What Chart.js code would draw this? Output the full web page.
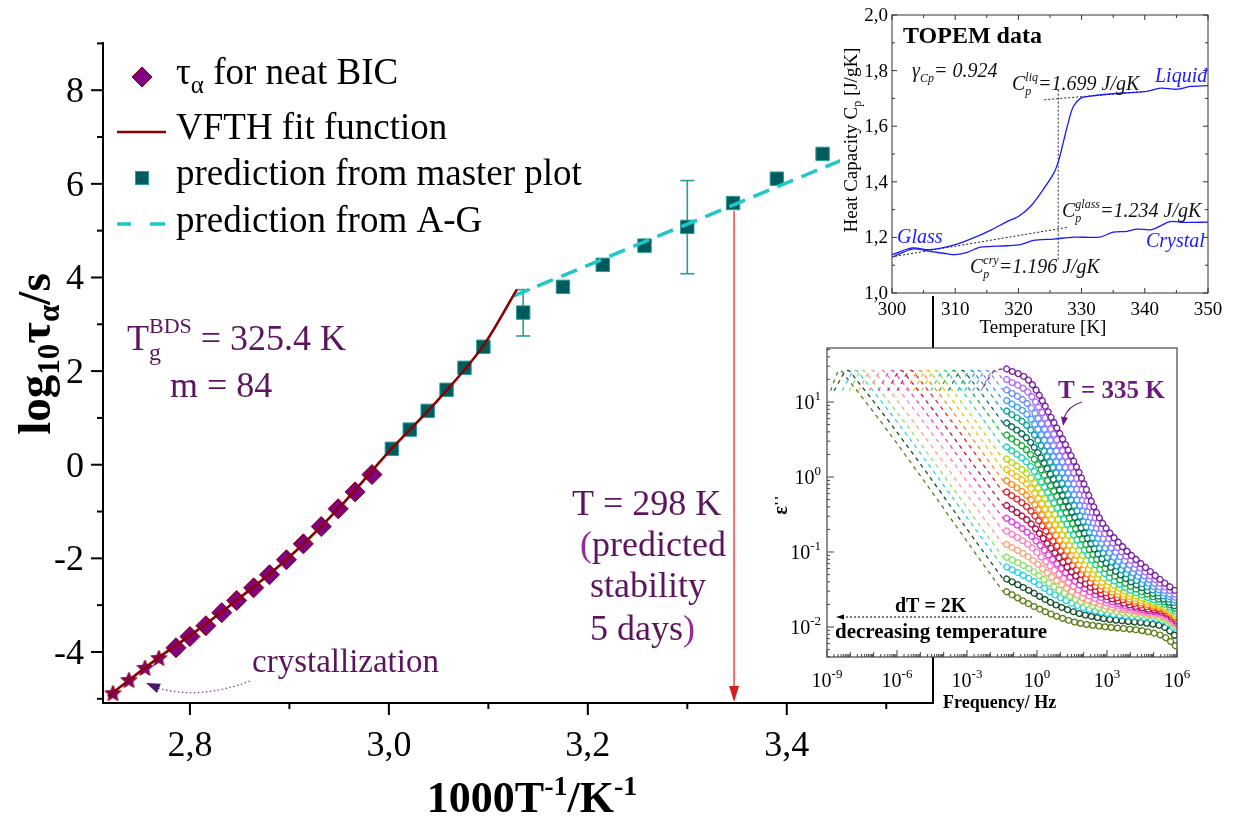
<!DOCTYPE html>
<html lang="en">
<head>
<meta charset="UTF-8">
<title>BIC relaxation map</title>
<script src="https://cdn.jsdelivr.net/npm/chart.js"></script>
<style>
  html, body { margin: 0; padding: 0; background: #fff; }
  #wrap { position: relative; width: 1236px; height: 816px; overflow: hidden; }
  #wrap canvas { position: absolute; }
</style>
</head>
<body>
<div id="wrap">
  <canvas id="mainChart" width="1236" height="816" style="left:0;top:0"></canvas>
  <canvas id="topemChart" width="396" height="340" style="left:840px;top:0"></canvas>
  <canvas id="dielChart" width="461" height="380" style="left:775px;top:340px"></canvas>
</div>

<script>
// ---- main plot: log10(tau) vs 1000/T ----
const crystX = [2.7226, 2.7387, 2.7548, 2.7688];
const crystY = [-4.87, -4.59, -4.33, -4.12];
const bicX = [2.786, 2.800, 2.816, 2.832, 2.847, 2.864, 2.880, 2.897, 2.914, 2.932, 2.949, 2.966, 2.983];
const bicY = [-3.91, -3.67, -3.44, -3.16, -2.90, -2.63, -2.35, -2.03, -1.69, -1.32, -0.94, -0.58, -0.21];
const masterX = [3.003, 3.021, 3.039, 3.058, 3.076, 3.095, 3.135, 3.175, 3.215, 3.257, 3.300, 3.346, 3.390, 3.436];
const masterY = [0.34, 0.75, 1.15, 1.60, 2.07, 2.52, 3.25, 3.80, 4.27, 4.68, 5.08, 5.59, 6.11, 6.64];
const errIndex = [6, 10];
const errLow = [2.75, 4.08];
const errHigh = [3.74, 6.07];
const vfthX = [2.7176, 2.7698, 2.800, 2.8503, 2.9005, 2.9508, 3.0010, 3.0513, 3.0955, 3.1286];
const vfthY = [-4.95, -4.10, -3.65, -2.84, -1.96, -0.90, 0.30, 1.43, 2.56, 3.74];
const agX = [3.125, 3.46];
const agY = [3.60, 6.55];
const arrowX = 3.347;
const arrowTop = 5.42;

// ---- TOPEM inset ----
const heatT = [300, 303.2, 306, 310, 312.9, 315.8, 318.2, 320, 321.9, 323.7, 325.6, 326.4, 327.2, 328, 328.7, 329.8, 331.1, 334, 337.7, 340.3, 342.5, 345.1, 347.2, 350];
const heatCp = [1.138, 1.162, 1.156, 1.174, 1.198, 1.228, 1.257, 1.275, 1.311, 1.365, 1.431, 1.479, 1.551, 1.623, 1.671, 1.700, 1.707, 1.715, 1.721, 1.725, 1.737, 1.733, 1.743, 1.746];
const cryT = [300, 303.2, 306, 308.7, 310, 311.9, 314, 318.2, 320.3, 322.4, 325.6, 328.7, 332.9, 335, 337.2, 338.8, 341.1, 344, 346.1, 350];
const cryCp = [1.129, 1.158, 1.150, 1.141, 1.138, 1.146, 1.165, 1.170, 1.174, 1.189, 1.194, 1.201, 1.201, 1.219, 1.222, 1.230, 1.228, 1.257, 1.254, 1.255];
const guideTgT = [326.3, 326.3];
const guideTgCp = [1.12, 1.733];
const guideLiqT = [324.1, 339.8];
const guideLiqCp = [1.695, 1.725];
const guideGlassT = [300.5, 327.7];
const guideGlassCp = [1.132, 1.236];

// ---- dielectric inset (log10 values) ----
const freqLog = [-1.3, -0.3, 0.7, 1.7, 2.7, 3.7, 4.7, 5.5, 6.0];
const epsLog = [
  [1.44, 1.27, 0.74, 0.13, -0.56, -0.94, -1.22, -1.42, -1.53],
  [1.30, 1.10, 0.58, -0.02, -0.66, -1.02, -1.28, -1.47, -1.58],
  [1.16, 0.94, 0.42, -0.16, -0.76, -1.10, -1.34, -1.52, -1.62],
  [1.02, 0.79, 0.27, -0.30, -0.86, -1.18, -1.40, -1.56, -1.66],
  [0.88, 0.64, 0.12, -0.44, -0.96, -1.26, -1.46, -1.60, -1.70],
  [0.72, 0.47, -0.03, -0.58, -1.06, -1.33, -1.51, -1.64, -1.74],
  [0.56, 0.31, -0.18, -0.71, -1.15, -1.40, -1.56, -1.67, -1.77],
  [0.40, 0.15, -0.33, -0.83, -1.23, -1.46, -1.60, -1.70, -1.80],
  [0.24, 0.00, -0.47, -0.94, -1.31, -1.51, -1.64, -1.73, -1.83],
  [0.10, -0.14, -0.60, -1.04, -1.38, -1.56, -1.67, -1.75, -1.86],
  [-0.05, -0.29, -0.73, -1.14, -1.44, -1.60, -1.70, -1.77, -1.88],
  [-0.20, -0.44, -0.86, -1.24, -1.50, -1.64, -1.73, -1.79, -1.90],
  [-0.38, -0.61, -0.99, -1.33, -1.55, -1.68, -1.76, -1.81, -1.92],
  [-0.55, -0.77, -1.11, -1.41, -1.60, -1.71, -1.78, -1.83, -1.94],
  [-0.72, -0.92, -1.23, -1.49, -1.65, -1.74, -1.80, -1.85, -1.96],
  [-0.90, -1.08, -1.35, -1.57, -1.70, -1.77, -1.82, -1.87, -1.98],
  [-1.07, -1.23, -1.46, -1.64, -1.75, -1.81, -1.85, -1.90, -2.01],
  [-1.20, -1.36, -1.56, -1.71, -1.80, -1.85, -1.88, -1.93, -2.05],
  [-1.36, -1.52, -1.69, -1.81, -1.88, -1.92, -1.95, -2.01, -2.14],
  [-1.53, -1.70, -1.84, -1.94, -1.99, -2.02, -2.06, -2.14, -2.27]
];
const masterCurves = [
  [[-2.3, 1.20], [-1.8, 1.42], [-1.45, 1.44]],
  [[-2.4, 1.15], [-1.85, 1.42], [-1.45, 1.30]],
  [[-2.75, 1.15], [-2.15, 1.42], [-1.8, 1.30], [-1.45, 1.16]],
  [[-3.1, 1.15], [-2.5, 1.42], [-2.15, 1.30], [-1.45, 1.02]],
  [[-3.4, 1.15], [-2.82, 1.42], [-2.47, 1.30], [-1.45, 0.88]],
  [[-3.8, 1.15], [-3.2, 1.42], [-2.85, 1.30], [-1.45, 0.72]],
  [[-4.2, 1.15], [-3.58, 1.42], [-3.23, 1.30], [-1.45, 0.56]],
  [[-4.55, 1.15], [-3.96, 1.42], [-3.6, 1.30], [-1.45, 0.40]],
  [[-4.95, 1.15], [-4.34, 1.42], [-4.0, 1.30], [-1.45, 0.24]],
  [[-5.3, 1.15], [-4.68, 1.42], [-4.33, 1.30], [-1.45, 0.10]],
  [[-5.6, 1.15], [-5.03, 1.42], [-4.68, 1.30], [-1.45, -0.05]],
  [[-6.0, 1.15], [-5.39, 1.42], [-5.04, 1.30], [-1.45, -0.20]],
  [[-6.4, 1.15], [-5.82, 1.42], [-5.47, 1.30], [-1.45, -0.38]],
  [[-6.8, 1.15], [-6.22, 1.42], [-5.87, 1.30], [-1.45, -0.55]],
  [[-7.2, 1.15], [-6.63, 1.42], [-6.28, 1.30], [-1.45, -0.72]],
  [[-7.65, 1.15], [-7.06, 1.42], [-6.71, 1.30], [-1.45, -0.90]],
  [[-8.05, 1.15], [-7.46, 1.42], [-7.11, 1.30], [-1.45, -1.07]],
  [[-8.35, 1.15], [-7.77, 1.42], [-7.42, 1.30], [-1.45, -1.20]],
  [[-8.7, 1.15], [-8.1, 1.42], [-7.75, 1.30], [-1.45, -1.36]],
  [[-8.85, 1.15], [-8.45, 1.42], [-8.1, 1.30], [-1.45, -1.53]]
];
const curveColors = ['#7b1fa2', '#b36bff', '#6f8cff', '#3fa0ff', '#10a6a0', '#0b6e5a', '#1fae3c', '#1fd6b8', '#b8d81a', '#f3c012',
  '#ff8a1c', '#e3262e', '#b0124f', '#e23ee6', '#ff7fbf', '#ffa27d', '#8ee06a', '#2fd0e6', '#17502a', '#5f7f1a'];

const SERIF = "'Liberation Serif', 'Times New Roman', serif";
const PURPLE = '#5c145f';

function pts(xs, ys) { return xs.map((x, i) => ({ x: x, y: ys[i] })); }

function richText(ctx, x, y, parts, align) {
  const fnt = p => (p.i ? 'italic ' : '') + (p.b ? 'bold ' : '') + p.s + 'px ' + SERIF;
  const adv = [];
  let total = 0, held = 0;
  parts.forEach(p => {
    ctx.font = fnt(p);
    const w = ctx.measureText(p.t).width;
    if (p.hold) { held = Math.max(held, w); adv.push(0); }
    else { const a = Math.max(w, held); held = 0; adv.push(a); total += a; }
  });
  total += held;
  let cx = align === 'center' ? x - total / 2 : align === 'right' ? x - total : x;
  ctx.textAlign = 'left';
  ctx.textBaseline = 'alphabetic';
  const base = ctx.fillStyle;
  parts.forEach((p, k) => {
    ctx.font = fnt(p);
    ctx.fillStyle = p.c || base;
    ctx.fillText(p.t, cx, y + (p.dy || 0));
    cx += adv[k];
  });
  ctx.fillStyle = base;
}

function seg(ctx, x1, y1, x2, y2) {
  ctx.beginPath(); ctx.moveTo(x1, y1); ctx.lineTo(x2, y2); ctx.stroke();
}

function arrowHead(ctx, tx, ty, ang, len, half) {
  ctx.beginPath();
  ctx.moveTo(tx, ty);
  ctx.lineTo(tx - len * Math.cos(ang) + half * Math.sin(ang), ty - len * Math.sin(ang) - half * Math.cos(ang));
  ctx.lineTo(tx - len * Math.cos(ang) - half * Math.sin(ang), ty - len * Math.sin(ang) + half * Math.cos(ang));
  ctx.closePath();
  ctx.fill();
}

function makeStar(size, fill, stroke) {
  const c = document.createElement('canvas');
  c.width = size; c.height = size;
  const g = c.getContext('2d');
  const r = size / 2 - 1, ri = r * 0.45, cx = size / 2, cy = size / 2 + 1;
  g.beginPath();
  for (let i = 0; i < 10; i++) {
    const a = -Math.PI / 2 + i * Math.PI / 5;
    const rr = i % 2 ? ri : r;
    g.lineTo(cx + rr * Math.cos(a), cy + rr * Math.sin(a));
  }
  g.closePath();
  g.fillStyle = fill; g.fill();
  g.strokeStyle = stroke; g.lineWidth = 1; g.stroke();
  return c;
}

const mainDeco = {
  id: 'mainDeco',
  beforeDatasetsDraw(chart) {
    const { ctx, scales: { x: xs, y: ys } } = chart;
    ctx.save();
    ctx.strokeStyle = '#2a9a9a';
    ctx.lineWidth = 1.6;
    errIndex.forEach((idx, k) => {
      const px = xs.getPixelForValue(masterX[idx]);
      const lo = ys.getPixelForValue(errLow[k]), hi = ys.getPixelForValue(errHigh[k]);
      seg(ctx, px, lo, px, hi);
      seg(ctx, px - 7, lo, px + 7, lo);
      seg(ctx, px - 7, hi, px + 7, hi);
    });
    ctx.restore();
  },
  afterDraw(chart) {
    const { ctx, chartArea: a, scales: { x: xs, y: ys } } = chart;
    ctx.save();
    // axes
    ctx.strokeStyle = '#000';
    ctx.lineWidth = 2;
    seg(ctx, a.left, a.top, a.left, a.bottom + 1);
    seg(ctx, a.left - 1, a.bottom, a.right, a.bottom);
    seg(ctx, a.right, a.top, a.right, a.bottom + 1);
    ctx.fillStyle = '#000';
    ctx.font = '36px ' + SERIF;
    xs.ticks.forEach(t => {
      const p = xs.getPixelForValue(t.value);
      const major = Math.round(t.value * 10) % 2 === 0;
      seg(ctx, p, a.bottom, p, a.bottom + (major ? 12 : 6));
      if (major) {
        ctx.textAlign = 'center';
        ctx.fillText(t.value.toFixed(1).replace('.', ','), p, 756);
      }
    });
    ys.ticks.forEach(t => {
      const p = ys.getPixelForValue(t.value);
      const major = Math.round(t.value) % 2 === 0;
      seg(ctx, a.left, p, a.left - (major ? 12 : 6), p);
      if (major) {
        ctx.textAlign = 'right';
        ctx.fillText(String(Math.round(t.value)), 84, p + 12);
      }
    });
    // axis titles
    richText(ctx, 532, 812, [
      { t: '1000T', s: 44, b: 1 }, { t: '-1', s: 28, b: 1, dy: -17 },
      { t: '/K', s: 44, b: 1 }, { t: '-1', s: 28, b: 1, dy: -17 }
    ], 'center');
    ctx.save();
    ctx.translate(50, 354);
    ctx.rotate(-Math.PI / 2);
    richText(ctx, 0, 0, [
      { t: 'log', s: 47, b: 1 }, { t: '10', s: 31, b: 1, dy: 9 },
      { t: 'τ', s: 47, b: 1 }, { t: 'α', s: 31, b: 1, dy: 9 }, { t: '/s', s: 47, b: 1 }
    ], 'center');
    ctx.restore();

    // legend
    ctx.fillStyle = '#800080';
    ctx.strokeStyle = '#8b0000';
    ctx.lineWidth = 1;
    ctx.beginPath();
    ctx.moveTo(142, 67); ctx.lineTo(152, 77); ctx.lineTo(142, 87); ctx.lineTo(132, 77); ctx.closePath();
    ctx.fill(); ctx.stroke();
    ctx.strokeStyle = '#8b0000'; ctx.lineWidth = 2.5;
    seg(ctx, 117, 132, 166, 132);
    ctx.fillStyle = '#005c5c'; ctx.strokeStyle = '#2a9d9d'; ctx.lineWidth = 1;
    ctx.fillRect(135.5, 171.5, 13, 13); ctx.strokeRect(135.5, 171.5, 13, 13);
    ctx.strokeStyle = '#1ec8c8'; ctx.lineWidth = 3.5;
    seg(ctx, 117, 224, 131, 224);
    seg(ctx, 150, 224, 165, 224);
    ctx.fillStyle = '#000';
    richText(ctx, 176, 84, [{ t: 'τ', s: 37 }, { t: 'α', s: 25, dy: 9 }, { t: ' for neat BIC', s: 37 }]);
    richText(ctx, 176, 139, [{ t: 'VFTH fit function', s: 37 }]);
    richText(ctx, 176, 185, [{ t: 'prediction from master plot', s: 37 }]);
    richText(ctx, 176, 232, [{ t: 'prediction from A-G', s: 37 }]);

    // annotations
    ctx.fillStyle = PURPLE;
    richText(ctx, 127, 350, [
      { t: 'T', s: 36 }, { t: 'BDS', s: 22, dy: -17, hold: 1 }, { t: 'g', s: 24, dy: 10 },
      { t: ' = 325.4 K', s: 36 }
    ]);
    richText(ctx, 170, 397, [{ t: 'm = 84', s: 36 }]);
    const BRIGHT = '#962a9c';
    richText(ctx, 572, 515, [{ t: 'T = 298 K', s: 36 }]);
    richText(ctx, 580, 556, [{ t: '(', s: 36, c: BRIGHT }, { t: 'predicted', s: 36 }]);
    richText(ctx, 590, 597, [{ t: 'stability', s: 36 }]);
    richText(ctx, 590, 640, [{ t: '5 days', s: 36 }, { t: ')', s: 36, c: BRIGHT }]);
    richText(ctx, 252, 672, [{ t: 'crystallization', s: 33 }]);

    // dotted arrow to the crystallised points
    ctx.strokeStyle = '#7a4a9a';
    ctx.lineWidth = 1.3;
    ctx.setLineDash([1.5, 2.5]);
    ctx.beginPath();
    ctx.moveTo(250, 681);
    ctx.quadraticCurveTo(200, 700, 158, 688);
    ctx.stroke();
    ctx.setLineDash([]);
    ctx.fillStyle = '#4a1a6a';
    arrowHead(ctx, 146, 683, Math.atan2(-5, -12), 14, 5);

    // red arrow to the x axis
    const ax = xs.getPixelForValue(arrowX);
    ctx.strokeStyle = '#e44a44';
    ctx.fillStyle = '#d42020';
    ctx.lineWidth = 1.5;
    seg(ctx, ax, ys.getPixelForValue(arrowTop), ax, a.bottom - 12);
    arrowHead(ctx, ax, a.bottom - 1, Math.PI / 2, 16, 5);
    ctx.restore();
  }
};

const starImg = makeStar(19, '#800080', '#8b0000');

new Chart(document.getElementById('mainChart'), {
  type: 'scatter',
  data: {
    datasets: [
      { data: pts(vfthX, vfthY), showLine: true, borderColor: '#8b0000', borderWidth: 2.6, pointRadius: 0, cubicInterpolationMode: 'monotone' },
      { data: pts(agX, agY), showLine: true, borderColor: '#1ec8c8', borderWidth: 3.5, borderDash: [17, 9], pointRadius: 0 },
      { data: pts(bicX, bicY), pointStyle: 'rectRot', pointRadius: 10, backgroundColor: '#800080', borderColor: '#8b0000', borderWidth: 1 },
      { data: pts(crystX, crystY), pointStyle: starImg, pointRadius: 9 },
      { data: pts(masterX, masterY), pointStyle: 'rect', pointRadius: 9.5, backgroundColor: '#005c5c', borderColor: '#2a9d9d', borderWidth: 1 }
    ]
  },
  options: {
    responsive: false, animation: false, devicePixelRatio: 1, events: [],
    layout: { padding: { left: 0, top: 42, right: 303, bottom: 0 } },
    plugins: { legend: { display: false }, tooltip: { enabled: false } },
    scales: {
      x: {
        type: 'linear', min: 2.7126, max: 3.547,
        afterFit(s) { s.height = 113; },
        grid: { display: false }, border: { display: false },
        ticks: { display: false, stepSize: 0.1, includeBounds: false, autoSkip: false }
      },
      y: {
        type: 'linear', min: -5.09, max: 9.03,
        afterFit(s) { s.width = 103; },
        grid: { display: false }, border: { display: false },
        ticks: { display: false, stepSize: 1, includeBounds: false, autoSkip: false }
      }
    }
  },
  plugins: [mainDeco]
});

// ---- TOPEM inset ----
const topemDeco = {
  id: 'topemDeco',
  beforeDraw(chart) {
    const ctx = chart.ctx;
    ctx.save(); ctx.fillStyle = '#fff'; ctx.fillRect(0, 0, 396, 296); ctx.restore();
  },
  afterDraw(chart) {
    const { ctx, chartArea: a, scales: { x: xs, y: ys } } = chart;
    ctx.save();
    ctx.strokeStyle = '#333';
    ctx.lineWidth = 1;
    ctx.strokeRect(a.left, a.top, a.right - a.left, a.bottom - a.top);
    ctx.fillStyle = '#000';
    ctx.font = '19px ' + SERIF;
    xs.ticks.forEach((t, k) => {
      const p = xs.getPixelForValue(t.value);
      seg(ctx, p, a.bottom, p, a.bottom - 5);
      seg(ctx, p, a.top, p, a.top + 5);
      if (k < xs.ticks.length - 1) {
        const m = xs.getPixelForValue(t.value + 5);
        seg(ctx, m, a.bottom, m, a.bottom - 3);
        seg(ctx, m, a.top, m, a.top + 3);
      }
      ctx.textAlign = 'center';
      ctx.fillText(String(t.value), p, 315);
    });
    ys.ticks.forEach((t, k) => {
      const p = ys.getPixelForValue(t.value);
      seg(ctx, a.left, p, a.left + 5, p);
      seg(ctx, a.right, p, a.right - 5, p);
      if (k < ys.ticks.length - 1) {
        const m = ys.getPixelForValue(t.value + 0.1);
        seg(ctx, a.left, m, a.left + 3, m);
        seg(ctx, a.right, m, a.right - 3, m);
      }
      ctx.textAlign = 'right';
      ctx.fillText(t.value.toFixed(1).replace('.', ','), 48, p + 6);
    });
    richText(ctx, 203, 333, [{ t: 'Temperature [K]', s: 19 }], 'center');
    ctx.save();
    ctx.translate(17, 140);
    ctx.rotate(-Math.PI / 2);
    richText(ctx, 0, 0, [{ t: 'Heat Capacity C', s: 19 }, { t: 'p', s: 12, dy: 4 }, { t: ' [J/gK]', s: 19 }], 'center');
    ctx.restore();

    richText(ctx, 63, 43, [{ t: 'TOPEM data', s: 24, b: 1 }]);
    ctx.fillStyle = '#111';
    richText(ctx, 72, 77, [{ t: 'γ', s: 20, i: 1 }, { t: 'Cp', s: 12, i: 1, dy: 5 }, { t: '= 0.924', s: 20, i: 1 }]);
    richText(ctx, 172, 90, [{ t: 'C', s: 20, i: 1 }, { t: 'liq', s: 12, i: 1, dy: -9, hold: 1 }, { t: 'p', s: 12, i: 1, dy: 5 }, { t: '=1.699 J/gK', s: 20, i: 1 }]);
    richText(ctx, 222, 217, [{ t: 'C', s: 20, i: 1 }, { t: 'glass', s: 12, i: 1, dy: -9, hold: 1 }, { t: 'p', s: 12, i: 1, dy: 5 }, { t: '=1.234 J/gK', s: 20, i: 1 }]);
    richText(ctx, 130, 273, [{ t: 'C', s: 20, i: 1 }, { t: 'cry', s: 12, i: 1, dy: -9, hold: 1 }, { t: 'p', s: 12, i: 1, dy: 5 }, { t: '=1.196 J/gK', s: 20, i: 1 }]);
    ctx.fillStyle = '#1a1aff';
    richText(ctx, 315, 82, [{ t: 'Liquid', s: 20, i: 1 }]);
    richText(ctx, 57, 243, [{ t: 'Glass', s: 20, i: 1 }]);
    richText(ctx, 306, 247, [{ t: 'Crystal', s: 20, i: 1 }]);
    ctx.restore();
  }
};

const guideStyle = { showLine: true, borderColor: '#222', borderWidth: 1, borderDash: [2, 2], pointRadius: 0 };
new Chart(document.getElementById('topemChart'), {
  type: 'scatter',
  data: {
    datasets: [
      { data: pts(heatT, heatCp), showLine: true, borderColor: '#1a1aff', borderWidth: 1.3, pointRadius: 0, tension: 0.3 },
      { data: pts(cryT, cryCp), showLine: true, borderColor: '#1a1aff', borderWidth: 1.3, pointRadius: 0, tension: 0.3 },
      Object.assign({ data: pts(guideTgT, guideTgCp) }, guideStyle),
      Object.assign({ data: pts(guideLiqT, guideLiqCp) }, guideStyle),
      Object.assign({ data: pts(guideGlassT, guideGlassCp) }, guideStyle)
    ]
  },
  options: {
    responsive: false, animation: false, devicePixelRatio: 1, events: [],
    layout: { padding: { left: 0, top: 15, right: 28, bottom: 0 } },
    plugins: { legend: { display: false }, tooltip: { enabled: false } },
    scales: {
      x: {
        type: 'linear', min: 300, max: 350,
        afterFit(s) { s.height = 47; },
        grid: { display: false }, border: { display: false },
        ticks: { display: false, stepSize: 10 }
      },
      y: {
        type: 'linear', min: 1.0, max: 2.0,
        afterFit(s) { s.width = 52; },
        grid: { display: false }, border: { display: false },
        ticks: { display: false, stepSize: 0.2 }
      }
    }
  },
  plugins: [topemDeco]
});

// ---- dielectric loss inset ----
const dielDeco = {
  id: 'dielDeco',
  beforeDraw(chart) {
    const { ctx, chartArea: a } = chart;
    ctx.save(); ctx.fillStyle = '#fff'; ctx.fillRect(a.left, a.top, a.right - a.left, a.bottom - a.top); ctx.restore();
  },
  afterDraw(chart) {
    const { ctx, chartArea: a, scales: { x: xs, y: ys } } = chart;
    ctx.save();
    ctx.strokeStyle = '#444';
    ctx.lineWidth = 1.2;
    ctx.strokeRect(a.left, a.top, a.right - a.left, a.bottom - a.top);
    ctx.lineWidth = 1;
    ctx.fillStyle = '#000';
    xs.ticks.forEach(t => {
      const p = xs.getPixelForValue(t.value);
      const lab = Math.round(t.value) % 3 === 0;
      seg(ctx, p, a.bottom, p, a.bottom - (lab ? 7 : 5));
      for (let k = 2; k < 10; k++) {
        const v = t.value + Math.log10(k);
        if (v < xs.max) { const q = xs.getPixelForValue(v); seg(ctx, q, a.bottom, q, a.bottom - 3); }
      }
      if (lab) richText(ctx, p, 347, [{ t: '10', s: 20 }, { t: String(Math.round(t.value)), s: 13, dy: -9 }], 'center');
    });
    for (let d = -3; d <= 1; d++) {
      for (let k = 1; k < 10; k++) {
        const v = d + Math.log10(k);
        if (v <= ys.min || v >= ys.max) continue;
        const q = ys.getPixelForValue(v);
        seg(ctx, a.left, q, a.left + (k === 1 ? 7 : 3), q);
        if (k === 1) richText(ctx, 46, q + 7, [{ t: '10', s: 20 }, { t: String(d), s: 13, dy: -9 }], 'right');
      }
    }
    richText(ctx, 168, 368, [{ t: 'Frequency/ Hz', s: 18, b: 1 }]);
    ctx.save();
    ctx.translate(12, 165);
    ctx.rotate(-Math.PI / 2);
    richText(ctx, 0, 0, [{ t: 'ε\'\'', s: 20, b: 1 }], 'center');
    ctx.restore();

    ctx.fillStyle = '#6d1a7e';
    richText(ctx, 283, 58, [{ t: 'T = 335 K', s: 25, b: 1 }]);
    ctx.strokeStyle = '#6d1a7e';
    ctx.lineWidth = 1.3;
    ctx.beginPath();
    ctx.moveTo(307, 62);
    ctx.quadraticCurveTo(293, 66, 289, 78);
    ctx.stroke();
    arrowHead(ctx, 288, 86, Math.atan2(9, -1.5), 9, 3.5);

    ctx.fillStyle = '#000';
    richText(ctx, 120, 272, [{ t: 'dT = 2K', s: 20, b: 1 }]);
    ctx.strokeStyle = '#000';
    ctx.lineWidth = 1;
    ctx.setLineDash([2, 2]);
    seg(ctx, 257, 277, 68, 277);
    ctx.setLineDash([]);
    arrowHead(ctx, 61, 277, Math.PI, 8, 2.5);
    richText(ctx, 60, 298, [{ t: 'decreasing temperature', s: 21, b: 1 }]);
    ctx.restore();
  }
};

// measured spectra drawn as chains of open rings: a coloured dotted stroke
// with a thinner white dotted stroke on top of it along the same path
const dielSets = [];
epsLog.forEach((row, i) => {
  const ring = { data: pts(freqLog, row), showLine: true, pointRadius: 0, cubicInterpolationMode: 'monotone', borderDash: [0.001, 6.2], borderCapStyle: 'round' };
  dielSets.push(Object.assign({}, ring, { borderColor: '#fff', borderWidth: 4.4 }));
  dielSets.push(Object.assign({}, ring, { borderColor: curveColors[i], borderWidth: 7 }));
});
masterCurves.forEach((c, i) => {
  dielSets.push({ data: c.map(p => ({ x: p[0], y: p[1] })), showLine: true, borderColor: curveColors[i], borderWidth: 1.3, borderDash: [4, 4], pointRadius: 0, cubicInterpolationMode: 'monotone' });
});

new Chart(document.getElementById('dielChart'), {
  type: 'scatter',
  data: { datasets: dielSets },
  options: {
    responsive: false, animation: false, devicePixelRatio: 1, events: [],
    layout: { padding: { left: 0, top: 8, right: 59, bottom: 0 } },
    plugins: { legend: { display: false }, tooltip: { enabled: false } },
    scales: {
      x: {
        type: 'linear', min: -9, max: 6,
        afterFit(s) { s.height = 63; },
        grid: { display: false }, border: { display: false },
        ticks: { display: false, stepSize: 1 }
      },
      y: {
        type: 'linear', min: -2.4, max: 1.72,
        afterFit(s) { s.width = 52; },
        grid: { display: false }, border: { display: false },
        ticks: { display: false, stepSize: 1 }
      }
    }
  },
  plugins: [dielDeco]
});
</script>
</body>
</html>
